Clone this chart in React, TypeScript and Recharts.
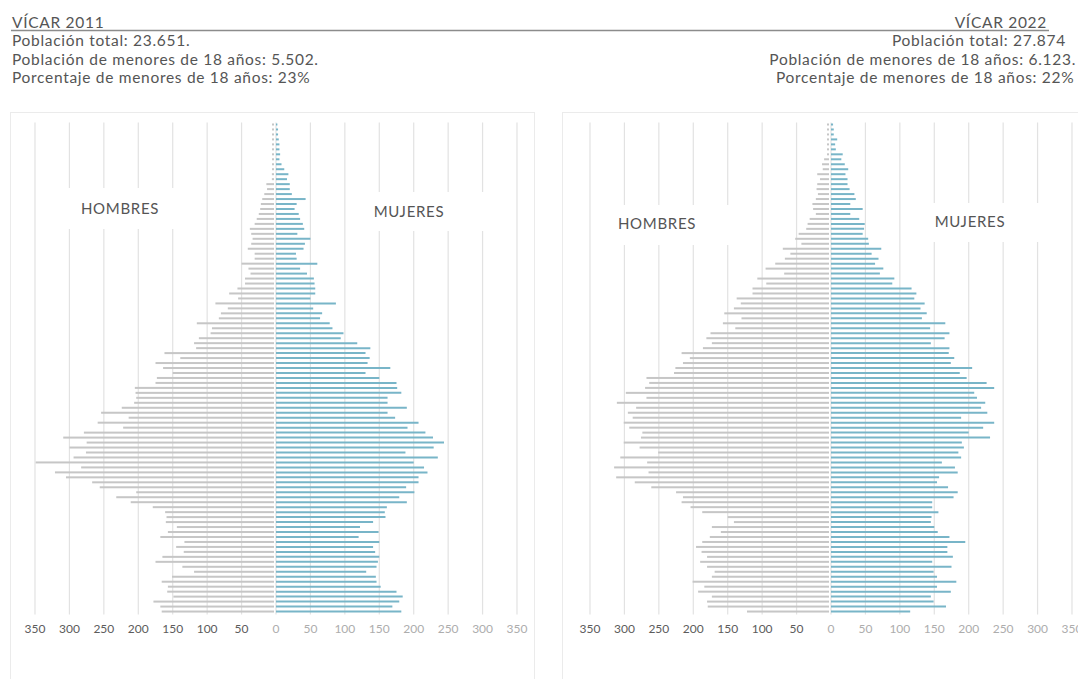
import React from 'react'
import { BarChart, Bar, XAxis, YAxis, CartesianGrid } from 'recharts'

// Bar lengths, listed from the top bar (oldest age) down to age 0
const MEN_2011 = [
  2, 2, 2, 3, 3, 3, 3, 3, 4, 5, 6, 6, 14, 13, 17, 20, 22, 23, 25, 28, 31, 38, 36, 34, 36, 41, 31, 31, 50, 40,
  37, 45, 45, 56, 68, 55, 88, 70, 80, 83, 115, 93, 95, 112, 119, 116, 162, 139, 175, 164,
  150, 173, 175, 205, 204, 203, 206, 224, 254, 214, 259, 222, 279, 309, 275, 300, 276, 294, 349, 283,
  321, 305, 267, 256, 203, 232, 211, 179, 161, 159, 160, 144, 157, 168, 133, 145, 134, 165, 175, 136,
  119, 151, 166, 157, 158, 149, 178, 168, 166,
]
const WOMEN_2011 = [
  2, 3, 3, 4, 5, 5, 6, 5, 8, 12, 18, 16, 20, 20, 23, 43, 30, 27, 33, 35, 39, 41, 31, 50, 42, 40, 29, 30, 60, 35,
  45, 55, 56, 57, 57, 50, 87, 54, 67, 64, 78, 82, 98, 94, 118, 137, 130, 136, 133, 166,
  130, 150, 175, 176, 182, 162, 162, 190, 162, 173, 207, 191, 217, 228, 244, 229, 188, 235, 200, 215,
  220, 207, 207, 189, 201, 179, 190, 161, 158, 159, 141, 122, 149, 120, 150, 141, 144, 150, 148, 146,
  131, 145, 146, 152, 175, 184, 179, 169, 182,
]
const MEN_2022 = [
  2, 2, 2, 2, 2, 2, 4, 10, 13, 12, 20, 16, 20, 21, 19, 22, 27, 26, 22, 31, 34, 36, 47, 52, 43, 70, 59, 67, 81, 95,
  68, 107, 94, 114, 114, 137, 131, 141, 155, 130, 157, 139, 175, 181, 173, 186, 217, 205, 215, 226,
  228, 268, 264, 270, 298, 268, 311, 283, 295, 288, 301, 293, 274, 276, 301, 278, 251, 306, 267, 315,
  265, 312, 285, 261, 225, 215, 217, 204, 187, 150, 141, 173, 160, 176, 187, 196, 188, 180, 190, 180,
  169, 173, 201, 184, 193, 173, 180, 179, 122,
]
const WOMEN_2022 = [
  3, 4, 4, 9, 6, 7, 17, 15, 20, 25, 21, 24, 24, 27, 34, 36, 28, 46, 28, 41, 49, 48, 46, 54, 55, 73, 59, 69, 64, 76,
  71, 92, 89, 117, 124, 121, 136, 130, 139, 132, 166, 144, 172, 165, 145, 172, 171, 179, 174, 205,
  187, 197, 226, 237, 208, 212, 224, 218, 227, 189, 237, 221, 200, 231, 190, 193, 185, 189, 161, 180,
  184, 157, 154, 170, 184, 178, 147, 147, 156, 146, 145, 150, 155, 172, 195, 169, 169, 177, 147, 175,
  149, 154, 182, 154, 174, 145, 149, 167, 115,
]
const TICKS = [-350, -300, -250, -200, -150, -100, -50, 0, 50, 100, 150, 200, 250, 300, 350]

const FONT = 'Lato, "Open Sans", sans-serif'
const TEXT = '#555555'
const MEN_COLOR = '#c6c6c6'
const WOMEN_COLOR = '#78b5c8'
const GRID_COLOR = '#e2e2e2'

function buildRows(men: number[], women: number[]) {
  return men.map((m, i) => ({ age: String(men.length - 1 - i), men: -m, women: women[i] }))
}

// men bars stop a little short of the centre line
function MenShape(props: any) {
  const { x, y, width, height, fill } = props
  const right = Math.max(x, x + width) - 2
  const w = Math.max(Math.abs(width) - 2, 2)
  return <rect x={right - w} y={y} width={w} height={height} fill={fill} />
}

function AxisTick(props: any) {
  const { x, y, payload } = props
  const v = payload.value
  return (
    <text x={x} y={y} dy={10} textAnchor="middle" fontSize={12} fontFamily={FONT} fill={v < 0 ? '#5c5c5c' : '#adadad'}>
      {Math.abs(v)}
    </text>
  )
}

interface PyramidProps {
  men: number[]
  women: number[]
  left: number
  width: number
  marginLeft: number
  marginRight: number
}

function Pyramid({ men, women, left, width, marginLeft, marginRight }: PyramidProps) {
  return (
    <div style={{ position: 'absolute', left, top: 112 }}>
      <BarChart
        width={width}
        height={567}
        data={buildRows(men, women)}
        layout="vertical"
        stackOffset="sign"
        barCategoryGap={0}
        margin={{ top: 10.5, right: marginRight, bottom: 34.5, left: marginLeft }}
      >
        <CartesianGrid horizontal={false} stroke={GRID_COLOR} strokeWidth={1.2} />
        <XAxis
          type="number"
          domain={[-350, 350]}
          ticks={TICKS}
          axisLine={false}
          tickLine={false}
          height={30}
          tick={<AxisTick />}
          interval={0}
        />
        <YAxis type="category" dataKey="age" hide width={0} />
        <Bar dataKey="men" stackId="p" fill={MEN_COLOR} barSize={2} shape={<MenShape />} isAnimationActive={false} />
        <Bar dataKey="women" stackId="p" fill={WOMEN_COLOR} barSize={2} isAnimationActive={false} />
      </BarChart>
    </div>
  )
}

function SexLabel({ cx, cy, box, text }: { cx: number; cy: number; box: [number, number, number, number]; text: string }) {
  return (
    <g>
      <rect x={box[0]} y={box[1]} width={box[2] - box[0]} height={box[3] - box[1]} fill="#ffffff" />
      <text x={cx} y={cy + 5.5} textAnchor="middle" fontSize={15} letterSpacing={0.7} fontFamily={FONT} fill={TEXT}>
        {text}
      </text>
    </g>
  )
}

export default function App() {
  const lines = { fontSize: 15.5, letterSpacing: 0.7, fontFamily: FONT, fill: TEXT }
  return (
    <div style={{ position: 'absolute', left: 0, top: 0, width: 1078, height: 679, overflow: 'hidden', background: '#fff' }}>
      <div style={{ position: 'absolute', left: 10, top: 112, width: 525, height: 600, border: '1px solid #ebebeb', boxSizing: 'border-box' }} />
      <div style={{ position: 'absolute', left: 562, top: 112, width: 600, height: 600, border: '1px solid #ebebeb', boxSizing: 'border-box' }} />

      <Pyramid men={MEN_2011} women={WOMEN_2011} left={10} width={525} marginLeft={25} marginRight={18} />
      <Pyramid men={MEN_2022} women={WOMEN_2022} left={562} width={530} marginLeft={28} marginRight={20} />

      <svg width={1078} height={679} style={{ position: 'absolute', left: 0, top: 0, pointerEvents: 'none' }}>
        <line x1={11} x2={1049} y1={30.5} y2={30.5} stroke="#8c8c8c" strokeWidth={1.5} />
        <text x={12} y={27.5} {...lines}>VÍCAR 2011</text>
        <text x={12} y={46} {...lines}>Población total: 23.651.</text>
        <text x={12} y={64.5} {...lines}>Población de menores de 18 años: 5.502.</text>
        <text x={12} y={83} {...lines}>Porcentaje de menores de 18 años: 23%</text>

        <text x={1047} y={27.5} textAnchor="end" {...lines}>VÍCAR 2022</text>
        <text x={892} y={46} {...lines}>Población total: 27.874</text>
        <text x={1076} y={64.5} textAnchor="end" {...lines}>Población de menores de 18 años: 6.123.</text>
        <text x={776} y={83} {...lines}>Porcentaje de menores de 18 años: 22%</text>

        <SexLabel cx={120} cy={208} box={[50, 188, 195, 229]} text="HOMBRES" />
        <SexLabel cx={409} cy={211} box={[360, 192, 500, 231]} text="MUJERES" />
        <SexLabel cx={657} cy={223} box={[605, 205, 745, 245]} text="HOMBRES" />
        <SexLabel cx={970} cy={221} box={[915, 203, 1055, 242]} text="MUJERES" />
      </svg>
    </div>
  )
}
